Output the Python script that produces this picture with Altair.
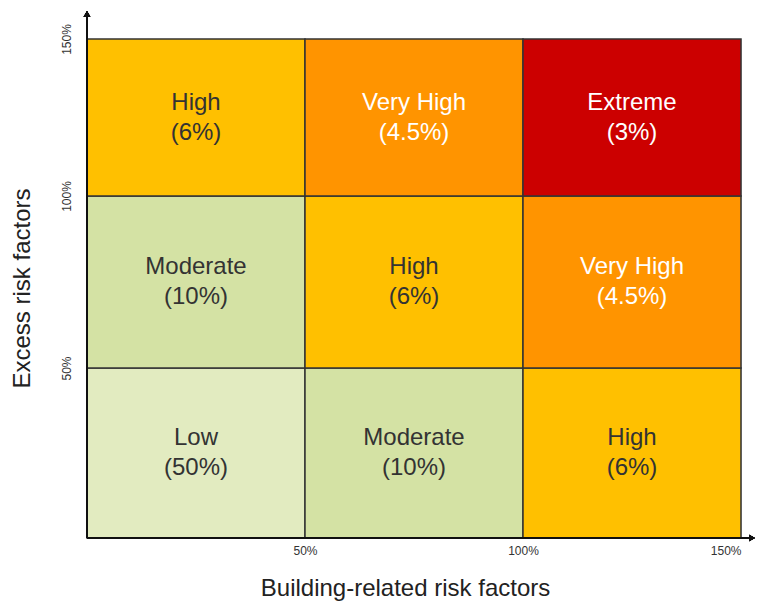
import altair as alt
import pandas as pd

# Grid definition (percent of limit)
edges = [0, 50, 100, 150]
# Cells listed bottom row first, left to right
levels = ["Low", "Moderate", "High",
          "Moderate", "High", "Very High",
          "High", "Very High", "Extreme"]
shares = ["50%", "10%", "6%",
          "10%", "6%", "4.5%",
          "6%", "4.5%", "3%"]
level_names = ["Low", "Moderate", "High", "Very High", "Extreme"]
level_colors = ["#E2EBC0", "#D4E2A4", "#FFC000", "#FF9400", "#CC0000"]
text_colors = ["#333333", "#333333", "#333333", "#FFFFFF", "#FFFFFF"]
tick_values = [50, 100, 150]

rows = []
for i, (lvl, sh) in enumerate(zip(levels, shares)):
    r, c = divmod(i, 3)
    rows.append({
        "x0": edges[c], "x1": edges[c + 1],
        "y0": edges[r], "y1": edges[r + 1],
        "xc": (edges[c] + edges[c + 1]) / 2,
        "yc": (edges[r] + edges[r + 1]) / 2,
        "level": lvl,
        "label": f"{lvl}\n({sh})",
        "tcolor": text_colors[level_names.index(lvl)],
    })
df = pd.DataFrame(rows)

W, H = 654, 499
FONT = "Liberation Sans"

xscale = alt.Scale(domain=[0, 150], nice=False, zero=False)
yscale = alt.Scale(domain=[0, 50, 100, 150], range=[H, 329, 157, 0], nice=False, zero=False)

xaxis = alt.Axis(values=tick_values, labelExpr="datum.value + '%'",
                 domain=False, ticks=False, grid=False,
                 labelFont=FONT, labelFontSize=12, labelColor="#333333", labelPadding=7,
                 title="Building-related risk factors", titleFont=FONT, titleFontSize=24,
                 titleFontWeight="normal", titleColor="#222222",
                 titleX=318, titleY=50, titleBaseline="middle", titleAnchor="middle")
yaxis = alt.Axis(values=tick_values, labelExpr="datum.value + '%'",
                 domain=False, ticks=False, grid=False, labelAngle=270,
                 labelAlign="center", labelBaseline="bottom",
                 labelFont=FONT, labelFontSize=12, labelColor="#333333", labelPadding=14,
                 title="Excess risk factors", titleFont=FONT, titleFontSize=24,
                 titleFontWeight="normal", titleColor="#222222", titleAngle=270,
                 titleX=-65, titleY=249, titleBaseline="middle", titleAlign="center")

cells = alt.Chart(df).mark_rect(stroke="#333333", strokeWidth=1.5).encode(
    x=alt.X("x0:Q", scale=xscale, axis=xaxis),
    x2="x1:Q",
    y=alt.Y("y0:Q", scale=yscale, axis=yaxis),
    y2="y1:Q",
    color=alt.Color("level:N", scale=alt.Scale(domain=level_names, range=level_colors), legend=None),
)

texts = alt.Chart(df).mark_text(font=FONT, fontSize=24, lineBreak="\n", lineHeight=30,
                                align="center", baseline="middle", dy=-15).encode(
    x=alt.X("xc:Q", scale=xscale),
    y=alt.Y("yc:Q", scale=yscale),
    text="label:N",
    color=alt.Color("tcolor:N", scale=None),
)

yline = alt.Chart(df).mark_rule(color="#111111", strokeWidth=1.5).encode(
    x=alt.value(0), y=alt.value(-24), y2=alt.value(H))
xline = alt.Chart(df).mark_rule(color="#111111", strokeWidth=1.5).encode(
    x=alt.value(0), x2=alt.value(664), y=alt.value(H))
yarrow = alt.Chart(df).mark_point(shape="triangle-up", filled=True, color="#111111",
                                  size=45, opacity=1).encode(x=alt.value(0), y=alt.value(-25))
xarrow = alt.Chart(df).mark_point(shape="triangle-right", filled=True, color="#111111",
                                  size=45, opacity=1).encode(x=alt.value(665), y=alt.value(H))

chart = alt.layer(cells, texts, yline, xline, yarrow, xarrow).properties(
    width=W, height=H,
    autosize=alt.AutoSizeParams(type="none"),
    padding={"left": 79, "top": 31, "right": 14, "bottom": 66},
).configure_view(stroke=None).configure(background="white")

chart.save("out.html", embed_options={"renderer": "svg", "actions": False})
